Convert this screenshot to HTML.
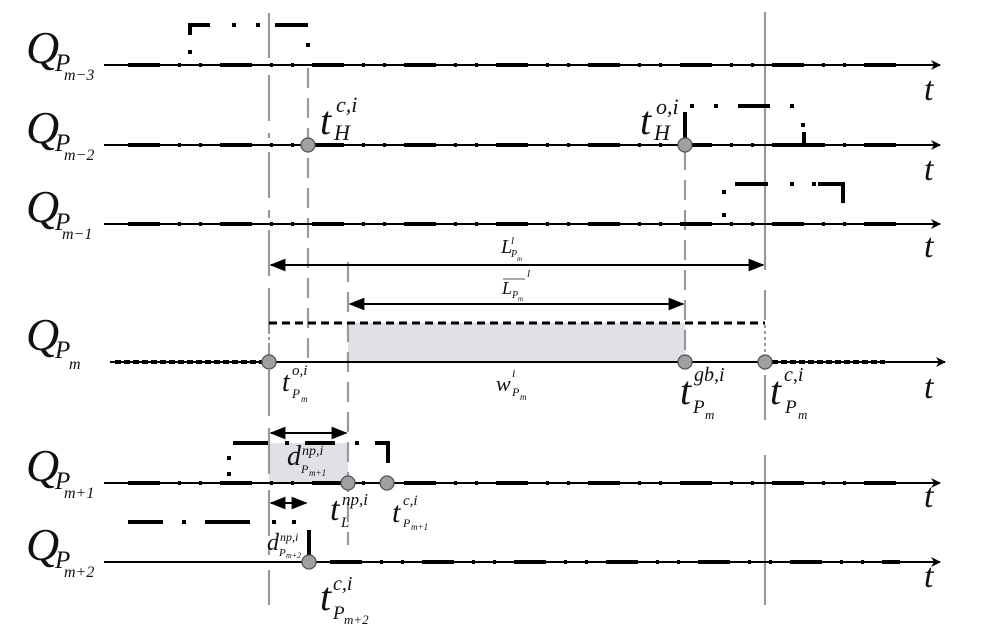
<!DOCTYPE html>
<html><head><meta charset="utf-8"><style>
html,body{margin:0;padding:0;background:#fff}
svg{display:block}
text{font-family:"Liberation Serif",serif;font-style:italic;fill:#111}
</style></head><body>
<svg width="990" height="638" viewBox="0 0 990 638" xmlns="http://www.w3.org/2000/svg">
<defs>
<marker id="ah" viewBox="0 0 10 10" refX="9" refY="5" markerWidth="8" markerHeight="8" orient="auto-start-reverse"><path d="M0,1 L10,5 L0,9 z" fill="#000"/></marker>
<marker id="sa" viewBox="0 0 10 10" refX="9" refY="5" markerWidth="5" markerHeight="5" orient="auto-start-reverse"><path d="M0,0 L10,5 L0,10 L3,5 z" fill="#000"/></marker>
</defs>

<rect x="348" y="323" width="337" height="39" fill="#dfe1e6"/>
<rect x="269" y="443" width="79" height="40" fill="#dfe1e6"/>

<g stroke="#999" stroke-width="2.2" fill="none">
<path d="M269 13V58 M269 75V138 M269 152V218 M269 230V355 M269 370V476 M269 490V555 M269 570V605" stroke-dasharray="46 12"/>
<path d="M308 68V360" stroke-dasharray="20 10"/>
<path d="M348 262V545" stroke-dasharray="20 10"/>
<path d="M685 150V360" stroke-dasharray="20 10"/>
<path d="M765 12V270 M765 290V320 M765 375V420 M765 455V605"/>
</g>

<g stroke="#000" fill="none">
<g stroke-width="2">
<line x1="104" y1="65" x2="940" y2="65" marker-end="url(#sa)"/>
<line x1="104" y1="145" x2="940" y2="145" marker-end="url(#sa)"/>
<line x1="104" y1="224" x2="940" y2="224" marker-end="url(#sa)"/>
<line x1="110" y1="362" x2="945" y2="362" marker-end="url(#sa)"/>
<line x1="104" y1="483" x2="940" y2="483" marker-end="url(#sa)"/>
<line x1="104" y1="562" x2="940" y2="562" marker-end="url(#sa)"/>
</g>
<g stroke-width="4" stroke-dasharray="32 18 3 18 3 18">
<line x1="128" y1="65" x2="900" y2="65"/>
<line x1="128" y1="145" x2="900" y2="145"/>
<line x1="128" y1="224" x2="900" y2="224"/>
<line x1="128" y1="483" x2="900" y2="483"/>
<line x1="330" y1="562" x2="900" y2="562"/>
</g>
<line x1="115" y1="362" x2="262" y2="362" stroke-width="4" stroke-dasharray="6 3"/>
<line x1="772" y1="362" x2="885" y2="362" stroke-width="4" stroke-dasharray="6 3"/>
</g>

<g stroke="#000" stroke-width="4" fill="none">
<path d="M190 35V25H210 M232 25H236 M256 25H260 M275 25H308" />
<path d="M190 50V54 M308 43V47"/>
<path d="M685 145V112 M690 106H694 M714 106H718 M738 106H770 M790 106H794 M803 123V127 M804 132V145H822"/>
<path d="M724 213V217 M724 190V194 M735 184H768 M790 184H794 M812 184H816 M818 184H843V203"/>
<path d="M229 472V476 M229 456V460 M233 443H268 M285 443H289 M305 443H335 M355 443H359 M375 443H388V463"/>
<path d="M128 522H163 M182 522H186 M205 522H250 M272 522H276 M292 522H296"/>
<path d="M309 530V562"/>
</g>
<path d="M269 323H765" stroke="#000" stroke-width="3" stroke-dasharray="8 5" fill="none"/>
<path d="M269 325V355 M765 325V355" stroke="#999" stroke-width="2" stroke-dasharray="3 3"/>

<g stroke="#000" stroke-width="2" fill="none">
<line x1="271" y1="265" x2="763" y2="265" marker-start="url(#ah)" marker-end="url(#ah)"/>
<line x1="350" y1="304" x2="683" y2="304" marker-start="url(#ah)" marker-end="url(#ah)"/>
<line x1="271" y1="433" x2="346" y2="433" marker-start="url(#ah)" marker-end="url(#ah)"/>
<line x1="271" y1="503" x2="306" y2="503" marker-start="url(#ah)" marker-end="url(#ah)"/>
</g>

<g fill="#a0a0a0" stroke="#555" stroke-width="1.3">
<circle cx="308" cy="145" r="7"/><circle cx="685" cy="145" r="7"/>
<circle cx="269" cy="362" r="7"/><circle cx="685" cy="362" r="7"/><circle cx="765" cy="362" r="7"/>
<circle cx="348" cy="483" r="7"/><circle cx="387" cy="483" r="7"/>
<circle cx="309" cy="562" r="7"/>
</g>

<g>
<text x="26" y="63" font-size="46">Q</text><text x="55" y="71" font-size="25">P</text><text x="64" y="80" font-size="16">m−3</text>
<text x="26" y="143" font-size="46">Q</text><text x="55" y="151" font-size="25">P</text><text x="64" y="160" font-size="16">m−2</text>
<text x="26" y="222" font-size="46">Q</text><text x="55" y="230" font-size="25">P</text><text x="62" y="239" font-size="16">m−1</text>
<text x="26" y="350" font-size="46">Q</text><text x="55" y="358" font-size="25">P</text><text x="69" y="369" font-size="16">m</text>
<text x="26" y="481" font-size="46">Q</text><text x="55" y="489" font-size="25">P</text><text x="64" y="498" font-size="16">m+1</text>
<text x="26" y="560" font-size="46">Q</text><text x="55" y="568" font-size="25">P</text><text x="64" y="577" font-size="16">m+2</text>
</g>

<g font-size="34">
<text x="924" y="100">t</text><text x="924" y="180">t</text><text x="924" y="257">t</text>
<text x="924" y="398">t</text><text x="924" y="507">t</text><text x="924" y="587">t</text>
</g>

<text x="320" y="134" font-size="40">t</text><text x="336" y="112" font-size="22">c,i</text><text x="334" y="140" font-size="22">H</text>
<text x="640" y="134" font-size="40">t</text><text x="656" y="114" font-size="22">o,i</text><text x="654" y="140" font-size="22">H</text>
<text x="282" y="391" font-size="28">t</text><text x="292" y="375" font-size="15">o,i</text><text x="292" y="398" font-size="13">P</text><text x="301" y="402" font-size="9">m</text>
<text x="496" y="391" font-size="22">w</text><text x="512" y="377" font-size="12">i</text><text x="512" y="396" font-size="12">P</text><text x="520" y="400" font-size="9">m</text>
<text x="680" y="404" font-size="40">t</text><text x="694" y="381" font-size="20">gb,i</text><text x="693" y="413" font-size="19">P</text><text x="705" y="419" font-size="13">m</text>
<text x="770" y="404" font-size="40">t</text><text x="784" y="381" font-size="20">c,i</text><text x="785" y="413" font-size="19">P</text><text x="798" y="419" font-size="13">m</text>
<text x="501" y="253" font-size="20">L</text><text x="511" y="244" font-size="11">l</text><text x="511" y="257" font-size="10">P</text><text x="517" y="261" font-size="7">m</text>
<text x="502" y="294" font-size="18">L</text><text x="512" y="298" font-size="10">P</text><text x="518" y="301" font-size="7">m</text><text x="527" y="277" font-size="11">l</text>
<line x1="503" y1="279" x2="525" y2="279" stroke="#555" stroke-width="1"/>
<text x="287" y="465" font-size="28">d</text><text x="302" y="455" font-size="14">np,i</text><text x="301" y="473" font-size="12">P</text><text x="309" y="476" font-size="9">m+1</text>
<text x="330" y="520" font-size="34">t</text><text x="342" y="505" font-size="17">np,i</text><text x="341" y="527" font-size="15">L</text>
<text x="392" y="522" font-size="30">t</text><text x="403" y="505" font-size="15">c,i</text><text x="403" y="527" font-size="12">P</text><text x="411" y="530" font-size="9">m+1</text>
<text x="267" y="550" font-size="24">d</text><text x="280" y="541" font-size="12">np,i</text><text x="279" y="556" font-size="11">P</text><text x="286" y="558" font-size="8">m+2</text>
<text x="320" y="610" font-size="40">t</text><text x="333" y="590" font-size="20">c,i</text><text x="333" y="619" font-size="19">P</text><text x="344" y="624" font-size="13">m+2</text>
</svg>
</body></html>
